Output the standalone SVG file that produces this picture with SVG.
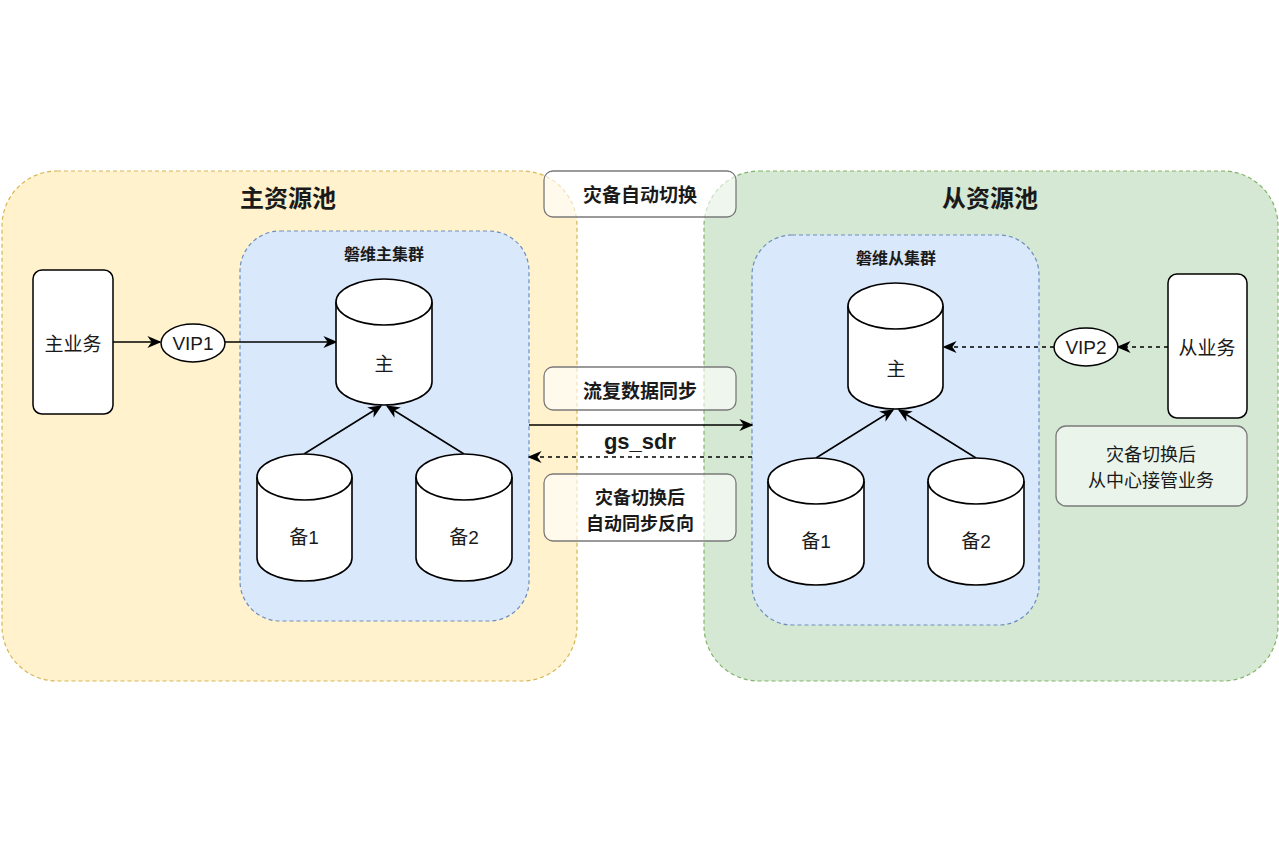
<svg xmlns="http://www.w3.org/2000/svg" width="1279" height="852" viewBox="0 0 1279 852">
<defs>
<marker id="arrL" viewBox="0 0 10 10" refX="9" refY="5" markerWidth="14" markerHeight="12" markerUnits="userSpaceOnUse" orient="auto" preserveAspectRatio="none">
<path d="M0,0 L10,5 L0,10 L3,5 z" fill="#000"/>
</marker>
</defs>
<style>
.t{font-family:"Liberation Sans","Noto Sans CJK SC",sans-serif;fill:#1a1a1a;text-anchor:middle;dominant-baseline:central}
.cjk{font-family:"Noto Sans CJK SC","Liberation Sans",sans-serif;fill:#1a1a1a;text-anchor:middle;dominant-baseline:central}
.b{font-weight:bold}
.pool1{fill:#fff2cc;stroke:#d6b656;stroke-width:1.2;stroke-dasharray:4 3}
.pool2{fill:#d5e8d4;stroke:#82b366;stroke-width:1.2;stroke-dasharray:4 3}
.cl{fill:#dae8fc;stroke:#6c8ebf;stroke-width:1.2;stroke-dasharray:4 3}
.cyl{fill:#fff;stroke:#000;stroke-width:1.6}
.arc{fill:none;stroke:#000;stroke-width:1.6}
.box{fill:#fff;stroke:#000;stroke-width:1.5}
.lbl{fill:#fff;fill-opacity:0.6;stroke:#7a7a7a;stroke-width:1.3}
.note{fill:#fff;fill-opacity:0.5;stroke:#7a7a7a;stroke-width:1.3}
.e{fill:none;stroke:#000;stroke-width:1.5}
.d{stroke-dasharray:4 4}
</style>

<g id="pool-main">
<rect class="pool1" x="2" y="171" width="575" height="510" rx="55"/>
<text class="cjk b" x="288" y="196" font-size="24">主资源池</text>
</g>
<g id="pool-slave">
<rect class="pool2" x="704" y="171" width="574" height="510" rx="55"/>
<text class="cjk b" x="990" y="196" font-size="24">从资源池</text>
</g>

<g id="cluster-main">
<rect class="cl" x="240" y="231" width="289" height="390" rx="40"/>
<text class="cjk b" x="384" y="253" font-size="16">磐维主集群</text>
</g>
<g id="cluster-slave">
<rect class="cl" x="752" y="235" width="287" height="390" rx="40"/>
<text class="cjk b" x="896" y="257" font-size="16">磐维从集群</text>
</g>

<g id="connectors">
<line class="e" x1="113" y1="342" x2="160" y2="342" marker-end="url(#arrL)"/>
<line class="e" x1="225" y1="342" x2="336" y2="342" marker-end="url(#arrL)"/>
<line class="e" x1="304" y1="454" x2="381" y2="406" marker-end="url(#arrL)"/>
<line class="e" x1="464" y1="454" x2="387" y2="406" marker-end="url(#arrL)"/>
<line class="e" x1="816" y1="458" x2="893" y2="410" marker-end="url(#arrL)"/>
<line class="e" x1="976" y1="458" x2="899" y2="410" marker-end="url(#arrL)"/>
<line class="e d" x1="1168" y1="347" x2="1118" y2="347" marker-end="url(#arrL)"/>
<line class="e d" x1="1054" y1="347" x2="944" y2="347" marker-end="url(#arrL)"/>
<line class="e" x1="529" y1="425" x2="752" y2="425" marker-end="url(#arrL)"/>
<line class="e d" x1="752" y1="457" x2="529" y2="457" marker-end="url(#arrL)"/>
</g>

<g id="biz-main">
<rect class="box" x="33" y="270" width="80" height="144" rx="9"/>
<text class="cjk" x="73" y="342" font-size="19">主业务</text>
</g>
<g id="vip1">
<ellipse class="box" cx="193" cy="343" rx="32" ry="19"/>
<text class="t" x="193" y="343" font-size="19">VIP1</text>
</g>
<g id="db-main-primary">
<path class="cyl" d="M336,302 A48,23 0 0 1 432,302 L432,382 A48,23 0 0 1 336,382 Z"/>
<path class="arc" d="M336,302 A48,23 0 0 0 432,302"/>
<text class="cjk" x="384" y="362" font-size="19">主</text>
</g>
<g id="db-main-standby1">
<path class="cyl" d="M257,477 A47.5,23 0 0 1 352,477 L352,558 A47.5,23 0 0 1 257,558 Z"/>
<path class="arc" d="M257,477 A47.5,23 0 0 0 352,477"/>
<text class="t" x="304" y="537" font-size="19">备1</text>
</g>
<g id="db-main-standby2">
<path class="cyl" d="M416,477 A48,23 0 0 1 512,477 L512,558 A48,23 0 0 1 416,558 Z"/>
<path class="arc" d="M416,477 A48,23 0 0 0 512,477"/>
<text class="t" x="464" y="537" font-size="19">备2</text>
</g>

<g id="db-slave-primary">
<path class="cyl" d="M848,306 A47.5,23 0 0 1 943,306 L943,386 A47.5,23 0 0 1 848,386 Z"/>
<path class="arc" d="M848,306 A47.5,23 0 0 0 943,306"/>
<text class="cjk" x="896" y="367" font-size="19">主</text>
</g>
<g id="db-slave-standby1">
<path class="cyl" d="M768,481 A48,23 0 0 1 864,481 L864,562 A48,23 0 0 1 768,562 Z"/>
<path class="arc" d="M768,481 A48,23 0 0 0 864,481"/>
<text class="t" x="816" y="541" font-size="19">备1</text>
</g>
<g id="db-slave-standby2">
<path class="cyl" d="M928,481 A48,23 0 0 1 1024,481 L1024,562 A48,23 0 0 1 928,562 Z"/>
<path class="arc" d="M928,481 A48,23 0 0 0 1024,481"/>
<text class="t" x="976" y="541" font-size="19">备2</text>
</g>

<g id="vip2">
<ellipse class="box" cx="1086" cy="347" rx="32" ry="19"/>
<text class="t" x="1086" y="347" font-size="19">VIP2</text>
</g>
<g id="biz-slave">
<rect class="box" x="1168" y="274" width="79" height="144" rx="9"/>
<text class="cjk" x="1207" y="346" font-size="19">从业务</text>
</g>
<g id="note-takeover">
<rect class="note" x="1056" y="426" width="191" height="80" rx="10"/>
<text class="cjk" x="1151" y="453" font-size="18">灾备切换后</text>
<text class="cjk" x="1151" y="479" font-size="18">从中心接管业务</text>
</g>

<g id="label-auto-switch">
<rect class="lbl" x="544" y="171" width="192" height="46" rx="9"/>
<text class="cjk b" x="640" y="193" font-size="19">灾备自动切换</text>
</g>
<g id="label-stream-sync">
<rect class="lbl" x="544" y="367" width="192" height="43" rx="9"/>
<text class="cjk b" x="640" y="389" font-size="19">流复数据同步</text>
</g>
<g id="label-gs-sdr">
<text class="t b" x="640" y="441" font-size="22">gs_sdr</text>
</g>
<g id="label-reverse">
<rect class="lbl" x="544" y="474" width="192" height="67" rx="9"/>
<text class="cjk b" x="640" y="495.5" font-size="18">灾备切换后</text>
<text class="cjk b" x="640" y="521.5" font-size="18">自动同步反向</text>
</g>
</svg>
